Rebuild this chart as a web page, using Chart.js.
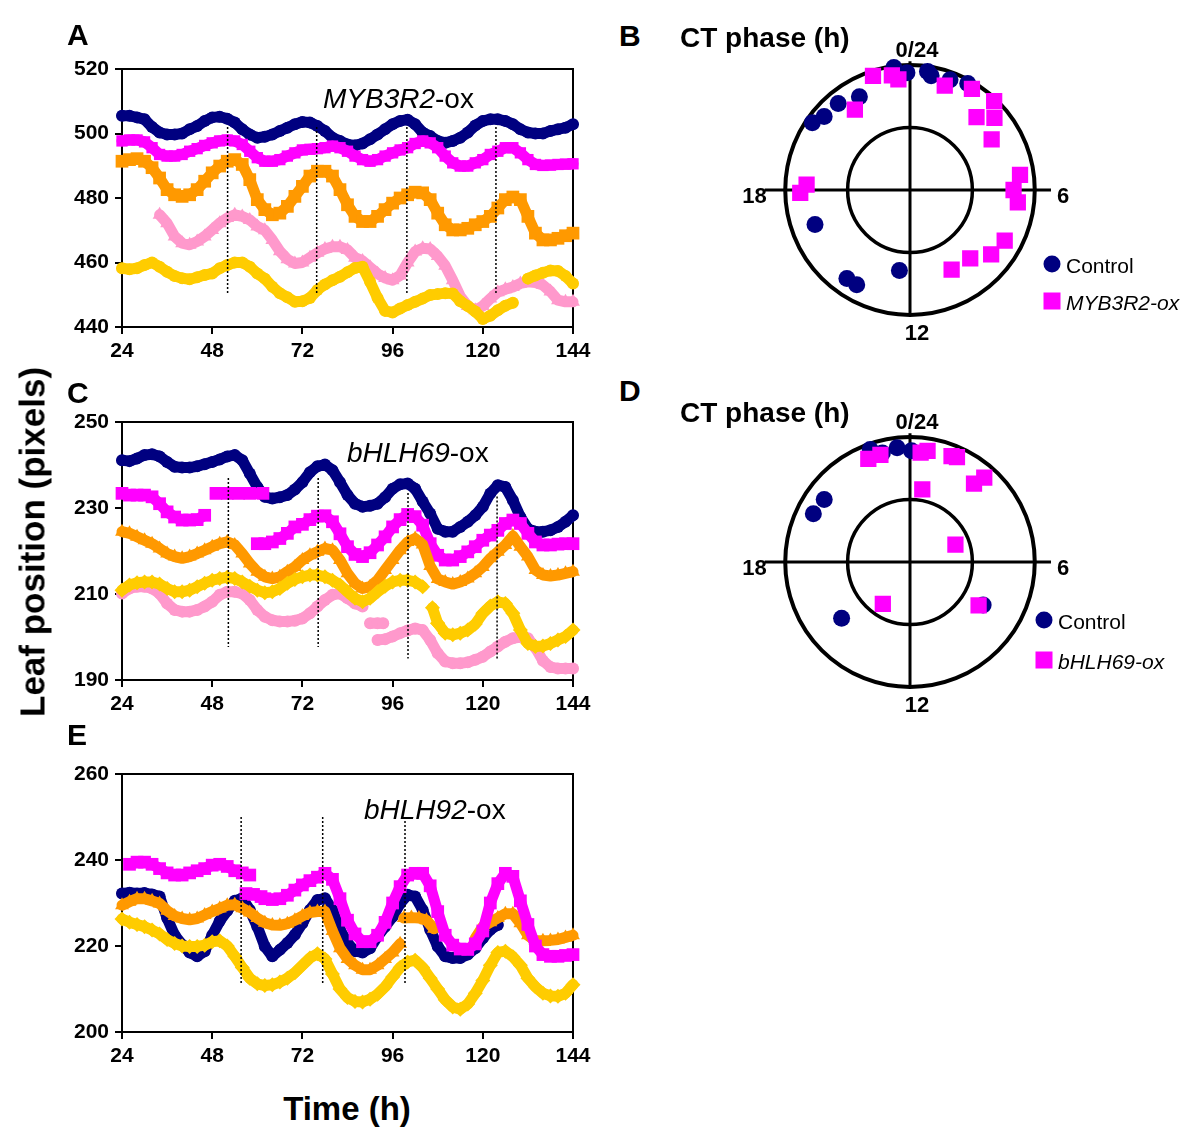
<!DOCTYPE html>
<html>
<head>
<meta charset="utf-8">
<script src="https://cdn.jsdelivr.net/npm/chart.js@4.4.1/dist/chart.umd.min.js"></script>
<style>
  body { margin: 0; background: #fff; width: 1200px; height: 1145px; position: relative; overflow: hidden;
         font-family: Arial, "Liberation Sans", sans-serif; color: #000; }
  canvas { position: absolute; }
  .lbl { position: absolute; font-weight: bold; line-height: 1; white-space: nowrap; transform: translateY(-50%); }
  .tag { position: absolute; line-height: 1; white-space: nowrap; transform: translateY(-50%); }
  .dot { position: absolute; width: 17px; height: 17px; border-radius: 50%; background: #000080; transform: translate(-50%, -50%); }
  .sq { position: absolute; width: 17px; height: 17px; background: #ff00ff; transform: translate(-50%, -50%); }
</style>
</head>
<body>

<canvas id="chA" width="570" height="322" style="left:30px;top:45px"></canvas>
<canvas id="chC" width="570" height="320" style="left:30px;top:400px"></canvas>
<canvas id="chE" width="570" height="322" style="left:30px;top:750px"></canvas>
<canvas id="chB" width="420" height="340" style="left:700px;top:20px"></canvas>
<canvas id="chD" width="420" height="340" style="left:700px;top:392px"></canvas>

<div class="lbl" style="left:67px;top:35px;font-size:30px">A</div>
<div class="lbl" style="left:67px;top:393px;font-size:30px">C</div>
<div class="lbl" style="left:67px;top:735px;font-size:30px">E</div>
<div class="lbl" style="left:619px;top:36px;font-size:30px">B</div>
<div class="lbl" style="left:619px;top:391px;font-size:30px">D</div>

<div class="lbl" style="left:680px;top:38px;font-size:28px">CT phase (h)</div>
<div class="lbl" style="left:680px;top:413px;font-size:28px">CT phase (h)</div>

<div class="tag" style="left:323px;top:99px;font-size:28px"><i>MYB3R2</i>-ox</div>
<div class="tag" style="left:347px;top:453px;font-size:28px"><i>bHLH69</i>-ox</div>
<div class="tag" style="left:364px;top:810px;font-size:28px"><i>bHLH92</i>-ox</div>

<div class="lbl" style="left:32px;top:542px;font-size:35px;transform:translate(-50%,-50%) rotate(-90deg)">Leaf position (pixels)</div>
<div class="lbl" style="left:347px;top:1108px;font-size:33px;transform:translate(-50%,-50%)">Time (h)</div>

<div class="dot" style="left:1052px;top:264px"></div>
<div class="tag" style="left:1066px;top:265px;font-size:21px">Control</div>
<div class="sq" style="left:1052px;top:301px"></div>
<div class="tag" style="left:1066px;top:302px;font-size:21px"><i>MYB3R2-ox</i></div>

<div class="dot" style="left:1044px;top:620px"></div>
<div class="tag" style="left:1058px;top:621px;font-size:21px">Control</div>
<div class="sq" style="left:1044px;top:660px"></div>
<div class="tag" style="left:1058px;top:661px;font-size:21px"><i>bHLH69-ox</i></div>

<script>
// sampling grid (h) shared by the time courses
const hours = [24, 26, 28, 30, 32, 34, 36, 38, 40, 42,
               44, 46, 48, 50, 52, 54, 56, 58, 60, 62,
               64, 66, 68, 70, 72, 74, 76, 78, 80, 82,
               84, 86, 88, 90, 92, 94, 96, 98, 100, 102,
               104, 106, 108, 110, 112, 114, 116, 118, 120, 122,
               124, 126, 128, 130, 132, 134, 136, 138, 140, 142,
               144];
const ticksX = [24, 48, 72, 96, 120, 144];

// Panel A - MYB3R2-ox
const ticksA = [440, 460, 480, 500, 520];
const navyA = [505.5, 505.5, 505, 504.4, 502, 500.3, 499.7, 499.7, 500, 501.3,
               502.3, 503.9, 505, 505.2, 504.6, 503.4, 501.3, 499.7, 498.7, 499,
               499.7, 500.8, 501.8, 502.9, 503.6, 503.4, 502.3, 500.8, 498.7, 497.7,
               496.6, 496.3, 496.9, 498.2, 499.7, 501.3, 502.9, 503.9, 504.3, 502.9,
               500.3, 499.2, 497.7, 497.1, 497.7, 498.7, 500.3, 502.5, 503.9, 504.4,
               504.4, 503.9, 502.9, 501.3, 500.3, 500, 500, 500.8, 501.3, 501.8,
               502.9];
const magentaA = [497.7, 498, 498, 497.4, 495.6, 493.5, 493, 493, 493.5, 494.5,
                  495.3, 496.3, 497.1, 497.7, 498, 497.7, 496.6, 494.5, 492.5, 491.4,
                  491.4, 491.9, 493, 494, 494.9, 495.1, 495.3, 495.6, 496.1, 495.6,
                  494.5, 493, 491.9, 491.4, 491.9, 493, 494, 494.9, 495.6, 496.9,
                  497.7, 497.1, 495.6, 493, 490.9, 489.9, 489.9, 490.9, 491.9, 493.5,
                  494.5, 495.6, 495.6, 494, 491.9, 490.4, 490.1, 490.2, 490.4, 490.5,
                  490.6];
const orangeA = [491.4, 491.9, 492.2, 491.4, 489.4, 486.2, 482.6, 481, 480.5, 481,
                 482.6, 485.2, 487.8, 489.9, 491.4, 491.9, 490.4, 485.7, 479.5, 476.4,
                 474.8, 475.3, 477.4, 480.5, 483.6, 486.8, 488.3, 488.3, 486.8, 482.6,
                 477.9, 474.3, 472.7, 472.7, 474.3, 476.4, 478.4, 480, 481, 481.8,
                 481.6, 479.5, 475.3, 471.7, 470.1, 470.1, 470.6, 471.7, 472.7, 474.3,
                 476.9, 479.5, 480.3, 479.5, 474.3, 469.1, 467, 467, 467.5, 468.3,
                 469.1];
const pinkA = [null, null, null, null, null, 474.8, 472.2, 468.1, 466, 465.5,
               466.5, 468.1, 470.1, 472.2, 473.8, 474.8, 474.3, 473.2, 471.2, 470,
               467, 463.5, 461, 459.7, 460, 461.5, 463, 464.2, 464.9, 464.9,
               463.9, 461.5, 460.5, 458.5, 456.5, 455.2, 454.5, 456, 460, 463.4,
               464.4, 464.2, 462, 459, 454.5, 449.5, 446.5, 445.2, 446.5, 448.8,
               450.8, 451.7, 452.4, 453.5, 454, 453.8, 453, 451, 448.3, 447.8,
               447.8];
const yellowA = [458.2, 457.9, 458.2, 459.2, 460, 458.7, 457.1, 455.8, 455.1, 454.8,
                 455.4, 456.1, 456.6, 458.2, 459.2, 460, 460, 458.7, 456.6, 455,
                 452.5, 450.5, 449.2, 447.8, 448, 449, 451.5, 453.2, 454.5, 455.6,
                 457, 458.3, 458.7, 454, 449, 445, 444.5, 445.7, 446.8, 447.8,
                 448.8, 449.9, 450.2, 450.5, 450.4, 448, 446.5, 444.8, 442.5, 443.5,
                 445.2, 446.6, 447.5, null, 455, 456, 456.8, 457.5, 457.4, 455.8,
                 453.5];
const dotHoursA = [52.1, 75.8, 99.8, 123.5];
const dotTopA = [502, 502, 502, 502];
const dotBottomA = [450, 450, 450, 450];

// Panel C - bHLH69-ox
const ticksC = [190, 210, 230, 250];
const navyC = [241.1, 240.9, 241.5, 242.3, 242.5, 242, 240.7, 239.6, 239.4, 239.4,
               239.7, 240.2, 240.7, 241.3, 242, 242.3, 241.1, 238, 234.9, 232.6,
               232.2, 232.5, 233, 234.3, 236, 238.3, 239.7, 240.1, 238.8, 236,
               233, 231, 230.3, 230.5, 231, 232.5, 234.5, 235.5, 235.7, 234.5,
               231.5, 228.7, 225.2, 224.5, 224.5, 225.6, 226.8, 228.3, 230.3, 233.4,
               235.3, 234.9, 231.8, 227.9, 225.2, 224.5, 224.5, 224.8, 225.6, 226.8,
               228.3];
const magentaC = [233.4, 233, 233, 233, 232.6, 231, 229.1, 227.9, 227.2, 227.2,
                  227.3, 228.3, null, null, null, null, null, null, 221.7, 221.7,
                  222.1, 222.9, 224.1, 225.6, 226.2, 227.3, 228.1, 228.2, 226.8, 224,
                  221, 219.2, 218.7, 219.6, 221.4, 223.3, 225.6, 227.3, 228.5, 228,
                  226, 221.7, 219, 217.9, 217.9, 218.7, 219.8, 221, 222.5, 223.7,
                  224.8, 226.4, 227.2, 226.4, 224.1, 222.1, 221.4, 221.4, 221.6, 221.7,
                  221.7];
const magentaCPieceHours = [49, 52, 55, 58, 61.5];
const magentaCPiece = [233.4, 233.4, 233.4, 233.4, 233.4];
const orangeC = [224.5, 224.1, 223.3, 222.5, 221.7, 220.6, 219.4, 218.7, 218.3, 218.7,
                 219.4, 220.2, 221, 221.7, 222.1, 221.4, 219.4, 217.1, 215.2, 214,
                 213.6, 214, 215.2, 216.3, 217.9, 219, 219.8, 220.6, 220.2, 217.9,
                 214.8, 212.5, 211.3, 211.7, 213.2, 215.6, 217.9, 220.2, 222.1, 222.9,
                 221.5, 216.5, 213.5, 212.8, 212.3, 212.8, 213.6, 214.8, 216.3, 218.3,
                 219.8, 221.4, 223.5, 221, 218.7, 215.6, 214.4, 214.2, 214.4, 214.8,
                 215.2];
const yellowC = [210.9, 212.1, 212.6, 212.8, 212.8, 212.3, 211.3, 210.5, 210.5, 210.9,
                 211.7, 212.5, 213.2, 213.6, 213.9, 213.6, 212.8, 211.8, 210.9, 210.3,
                 210.5, 211.3, 212.5, 213.4, 214, 214.4, 214.4, 214, 213.2, 212.1,
                 210.5, 209, 208.2, 209, 210.5, 211.8, 212.8, 213.2, 213.2, 212.8,
                 211.7, null, 203.2, 200.9, 200.5, 200.9, 201.6, 203, 205.5, 207.2,
                 208.2, 207.8, 205.5, 201.6, 198.5, 197.8, 197.9, 198.5, 199.3, 200.1,
                 201.6];
const yellowCPieceHours = [106.6, 108];
const yellowCPiece = [206.8, 203.2];
const pinkC = [210.1, 211.3, 211.7, 211.7, 211.3, 210.1, 207.8, 206.3, 205.9, 205.9,
               206.3, 207.1, 208.2, 209.8, 210.5, 210.5, 210.1, 208.6, 206.3, 204.7,
               203.9, 203.6, 203.6, 203.8, 204.3, 205.5, 207.1, 208.6, 209.8, 210.1,
               209, 207.8, 207.1, null, 199.3, 199.5, 200.1, 200.9, 201.5, 202,
               201.6, 199.3, 196.2, 194.3, 193.9, 193.9, 194.1, 194.7, 195.4, 196.6,
               197.8, 198.9, 199.7, 200, 199.7, 197.5, 194.5, 193, 192.7, 192.7,
               192.7];
const pinkCPieceHours = [90, 92, 93.5];
const pinkCPiece = [203.2, 203.2, 203.2];
const dotHoursC = [52.3, 76.2, 100.1, 123.8];
const dotTopC = [237, 237, 233.5, 232.7];
const dotBottomC = [197.7, 197.7, 195, 195];

// Panel E - bHLH92-ox
const ticksE = [200, 220, 240, 260];
const navyE = [232.2, 232.4, 232.2, 232.3, 232, 231.5, 226.5, 222.5, 220.3, 218.5,
               217.6, 218.8, 222.5, 225.8, 228.2, 230.5, 231.1, 228.4, 224.5, 219.9,
               217.6, 219.1, 220.7, 222.6, 225.3, 228.4, 230.7, 231.1, 228.4, 223.8,
               220.7, 218.8, 218.5, 219.5, 222.2, 224.5, 226.8, 229.9, 231.9, 231.5,
               228.4, 223.8, 219.9, 217.6, 217.2, 217.2, 218, 219.5, 221.8, 223.8,
               224.9, null, null, null, null, null, null, null, null, null,
               null];
const magentaE = [null, 239, 239.5, 239.5, 239, 238, 237, 236.5, 236.5, 237,
                  237.5, 238, 238.8, 239, 238.5, 237.5, 237, 236.5, null, 231,
                  230.8, 231, 231.8, 233, 234.2, 235.2, 236, 236.9, 235.5, 231,
                  226, 222.8, 221, 221, 222.5, 225.5, 230, 233.8, 236.5, 236.9,
                  236.9, 234, 228, 222.5, 220.2, 219.3, 219.2, 220.5, 223.5, 230,
                  234.5, 236.9, 236.2, 230.5, 225, 220, 218, 217.6, 217.6, 217.8,
                  218];
const magentaEPieceHours = [57, 59, 61];
const magentaEPiece = [232.2, 232, 231.5];
const orangeE = [229.5, 230.3, 231, 231, 230.5, 229.9, 228.2, 227, 226.4, 226.1,
                 226.4, 227.2, 228, 228.7, 229.5, 229.6, 228.8, 227.8, 226.5, 225.4,
                 224.9, 224.8, 225.2, 226, 227, 227.8, 228, 228, 223.5, 219.5,
                 217, 215.5, 214.5, 214.5, 215.5, 217, 218.5, 220.5, null, null,
                 null, null, null, null, null, null, null, 221.8, 224.5, 225.5,
                 226.5, 227.5, 227.5, 225.3, 222.5, 221.2, 221.2, 221.3, 221.5, 222,
                 222.5];
const orangeEPieceHours = [99, 101, 103, 105, 107];
const orangeEPiece = [226.5, 226.6, 226.5, 226, 224];
const yellowE = [226.3, 225.5, 225, 224.5, 223.7, 222.8, 221.5, 220.6, 220, 219.9,
                 219.9, 220.2, 221, 221.2, 220, 217.6, 215, 212.5, 211.2, 210.8,
                 211, 211.6, 212.5, 213.8, 215.5, 217.2, 218.2, 217, 213.5, 210,
                 208, 207.1, 207, 207.6, 208.8, 210.5, 212.8, 215, 216.3, 216.7,
                 215, 212.5, 210, 207.5, 205.8, 205.3, 206.5, 209, 212, 215.5,
                 218.5, 218.8, 217.5, 215.5, 212.5, 210.5, 209, 208.4, 208.3, 209,
                 211];
const dotHoursE = [55.7, 77.4, 99.3];
const dotTopE = [250, 250, 250];
const dotBottomE = [211, 211, 211];

// Panels B and D - CT phase (h) and relative amplitude (outer ring = 1)
const ctrlPhaseB = [23.5, 23.9, 0.56, 0.7, 1.33, 1.9, 22.1, 21.35, 20.7, 20.3, 16.67, 14.37, 13.96, 12.5];
const ctrlAmpB = [0.99, 0.94, 0.96, 0.93, 0.94, 0.97, 0.85, 0.9, 0.905, 0.95, 0.81, 0.87, 0.87, 0.65];
const oxPhaseB = [22.8, 23.4, 23.6, 21.7, 1.23, 2.1, 2.9, 3.3, 2.83, 3.88, 5.48, 6.0, 6.44, 18.2, 17.9, 7.87, 8.56, 9.24, 10.16];
const oxAmpB = [0.96, 0.93, 0.89, 0.78, 0.88, 0.95, 0.98, 0.89, 0.79, 0.77, 0.89, 0.83, 0.87, 0.83, 0.88, 0.86, 0.83, 0.73, 0.72];
const ctrlPhaseD = [22.7, 23.05, 23.57, 0.05, 20.4, 19.77, 15.37, 8.03];
const ctrlAmpD = [0.955, 0.9, 0.92, 0.89, 0.85, 0.866, 0.71, 0.68];
const oxPhaseD = [22.53, 22.97, 0.37, 0.6, 1.43, 1.61, 2.76, 2.62, 0.64, 4.6, 14.2, 8.15];
const oxAmpD = [0.89, 0.89, 0.88, 0.9, 0.91, 0.92, 0.9, 0.81, 0.59, 0.39, 0.4, 0.65];
const dialLabels = ['0/24', '6', '12', '18'];

const NAVY = '#000080', MAGENTA = '#ff00ff', ORANGE = '#ff9900', PINK = '#ff99cc', YELLOW = '#ffcc00';
const tickFont = { family: 'Arial, "Liberation Sans", sans-serif', size: 21, weight: 'bold' };

function pts(h, v) {
    return h.map((x, i) => ({ x: x, y: v[i] }));
}

function trace(h, v, color, style, radius, order) {
    return {
        data: pts(h, v),
        borderColor: color,
        backgroundColor: color,
        pointBackgroundColor: color,
        borderWidth: 11,
        borderJoinStyle: 'round',
        borderCapStyle: 'round',
        pointStyle: style,
        pointRadius: radius,
        pointBorderWidth: 0,
        spanGaps: false,
        tension: 0,
        clip: 8,
        order: order
    };
}

function dotted(hrs, tops, bottoms) {
    return hrs.map((t, i) => ({
        data: [{ x: t, y: tops[i] }, { x: t, y: bottoms[i] }],
        borderColor: '#000',
        borderWidth: 1.5,
        borderDash: [2, 2],
        pointRadius: 0,
        order: 0
    }));
}

// box around the plot area
const framePlugin = {
    id: 'frame',
    beforeDatasetsDraw(chart) {
        const { ctx, chartArea: a } = chart;
        ctx.save();
        ctx.strokeStyle = '#000';
        ctx.lineWidth = 2;
        ctx.strokeRect(a.left, a.top, a.width, a.height);
        ctx.restore();
    }
};

function makeLine(id, tickValues, padTop, datasets) {
    const axisGrid = { drawOnChartArea: false, drawTicks: true, tickLength: 7, color: '#000', lineWidth: 2 };
    new Chart(document.getElementById(id), {
        type: 'line',
        data: { datasets: datasets },
        options: {
            responsive: false,
            animation: false,
            events: [],
            layout: { padding: { top: padTop, right: 27, left: 0, bottom: 0 } },
            plugins: { legend: { display: false }, tooltip: { enabled: false } },
            scales: {
                x: {
                    type: 'linear', min: ticksX[0], max: ticksX[ticksX.length - 1],
                    afterFit: s => { s.height = 40; },
                    afterBuildTicks: s => { s.ticks = ticksX.map(v => ({ value: v })); },
                    ticks: { color: '#000', font: tickFont, padding: 5, maxRotation: 0, autoSkip: false },
                    grid: axisGrid,
                    border: { display: false }
                },
                y: {
                    type: 'linear', min: tickValues[0], max: tickValues[tickValues.length - 1],
                    afterFit: s => { s.width = 92; },
                    afterBuildTicks: s => { s.ticks = tickValues.map(v => ({ value: v })); },
                    ticks: { color: '#000', font: tickFont, padding: 6, autoSkip: false },
                    grid: axisGrid,
                    border: { display: false }
                }
            }
        },
        plugins: [framePlugin]
    });
}

makeLine('chA', ticksA, 24, [
    trace(hours, navyA, NAVY, 'circle', 6, 5),
    trace(hours, magentaA, MAGENTA, 'rect', 8, 4),
    trace(hours, orangeA, ORANGE, 'rect', 9, 3),
    trace(hours, pinkA, PINK, 'triangle', 8, 2),
    trace(hours, yellowA, YELLOW, 'circle', 6, 1),
    ...dotted(dotHoursA, dotTopA, dotBottomA)
]);

makeLine('chC', ticksC, 22, [
    trace(hours, navyC, NAVY, 'circle', 6, 5),
    trace(hours, magentaC, MAGENTA, 'rect', 9, 4),
    trace(magentaCPieceHours, magentaCPiece, MAGENTA, 'rect', 9, 4),
    trace(hours, orangeC, ORANGE, 'triangle', 8, 3),
    trace(hours, yellowC, YELLOW, 'rectRot', 7.5, 1),
    trace(yellowCPieceHours, yellowCPiece, YELLOW, 'rectRot', 7.5, 1),
    trace(hours, pinkC, PINK, 'circle', 6, 2),
    trace(pinkCPieceHours, pinkCPiece, PINK, 'circle', 6, 2),
    ...dotted(dotHoursC, dotTopC, dotBottomC)
]);

makeLine('chE', ticksE, 24, [
    trace(hours, navyE, NAVY, 'circle', 6, 5),
    trace(hours, magentaE, MAGENTA, 'rect', 9, 2),
    trace(magentaEPieceHours, magentaEPiece, MAGENTA, 'rect', 9, 2),
    trace(hours, orangeE, ORANGE, 'triangle', 8, 3),
    trace(orangeEPieceHours, orangeEPiece, ORANGE, 'triangle', 8, 3),
    trace(hours, yellowE, YELLOW, 'rectRot', 7.5, 4),
    ...dotted(dotHoursE, dotTopE, dotBottomE)
]);

// rings, cross and hour labels of the phase plots
const dialPlugin = {
    id: 'dial',
    beforeDatasetsDraw(chart) {
        const { ctx } = chart;
        const xs = chart.scales.x, ys = chart.scales.y;
        const cx = xs.getPixelForValue(0), cy = ys.getPixelForValue(0);
        const rx = xs.getPixelForValue(1) - cx, ry = cy - ys.getPixelForValue(1);
        ctx.save();
        ctx.strokeStyle = '#000';
        ctx.lineWidth = 4;
        ctx.beginPath();
        ctx.ellipse(cx, cy, rx, ry, 0, 0, Math.PI * 2);
        ctx.stroke();
        ctx.lineWidth = 3.5;
        ctx.beginPath();
        ctx.ellipse(cx, cy, rx * 0.5, ry * 0.5, 0, 0, Math.PI * 2);
        ctx.stroke();
        ctx.lineWidth = 3;
        ctx.beginPath();
        ctx.moveTo(xs.getPixelForValue(-1.165), cy);
        ctx.lineTo(xs.getPixelForValue(1.13), cy);
        ctx.moveTo(cx, ys.getPixelForValue(1.03));
        ctx.lineTo(cx, ys.getPixelForValue(-1.0));
        ctx.stroke();

        ctx.fillStyle = '#000';
        ctx.font = 'bold 22px Arial, "Liberation Sans", sans-serif';
        ctx.textBaseline = 'middle';
        ctx.textAlign = 'center';
        ctx.fillText(dialLabels[0], cx + 7, cy - ry - 14);
        ctx.fillText(dialLabels[2], cx + 7, cy + ry + 19);
        ctx.textAlign = 'left';
        ctx.fillText(dialLabels[1], xs.getPixelForValue(1.13) + 6, cy + 7);
        ctx.textAlign = 'right';
        ctx.fillText(dialLabels[3], xs.getPixelForValue(-1.165) + 2, cy + 7);
        ctx.restore();
    }
};

function toXY(phase, amp) {
    return phase.map((p, i) => ({
        x: amp[i] * Math.sin(p * Math.PI / 12),
        y: amp[i] * Math.cos(p * Math.PI / 12)
    }));
}

function makePolar(id, ctrlPhase, ctrlAmp, oxPhase, oxAmp) {
    new Chart(document.getElementById(id), {
        type: 'scatter',
        data: {
            datasets: [{
                data: toXY(oxPhase, oxAmp),
                pointStyle: 'rect',
                pointRadius: 11.5,
                pointBackgroundColor: MAGENTA,
                pointBorderWidth: 0,
                order: 0
            }, {
                data: toXY(ctrlPhase, ctrlAmp),
                pointStyle: 'circle',
                pointRadius: 8.5,
                pointBackgroundColor: NAVY,
                pointBorderWidth: 0,
                order: 1
            }]
        },
        options: {
            responsive: false,
            animation: false,
            events: [],
            layout: { padding: 0 },
            plugins: { legend: { display: false }, tooltip: { enabled: false } },
            scales: {
                x: { type: 'linear', min: -1.591, max: 1.591, display: false },
                y: { type: 'linear', min: -1.269, max: 1.269, display: false }
            }
        },
        plugins: [dialPlugin]
    });
}

makePolar('chB', ctrlPhaseB, ctrlAmpB, oxPhaseB, oxAmpB);
makePolar('chD', ctrlPhaseD, ctrlAmpD, oxPhaseD, oxAmpD);
</script>
</body>
</html>
